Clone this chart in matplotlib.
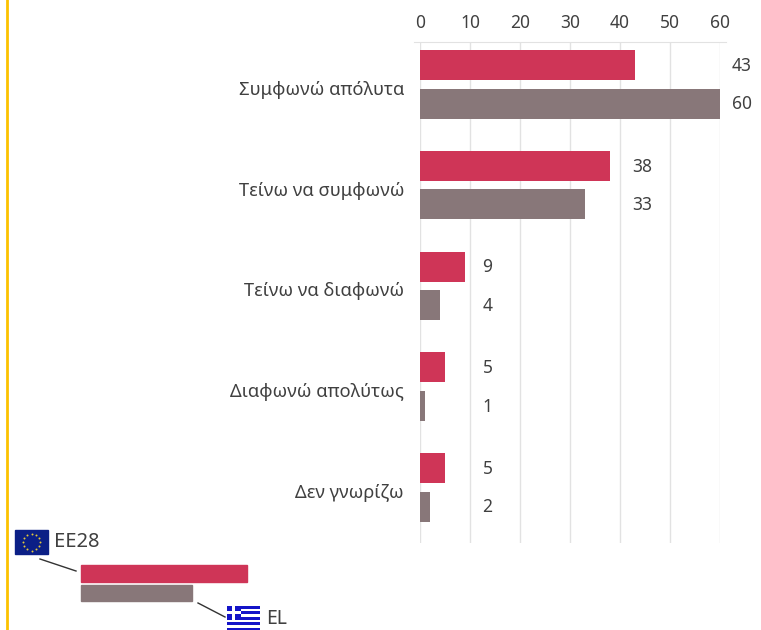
import matplotlib
matplotlib.use('Agg')
import matplotlib.pyplot as plt
import numpy as np
from matplotlib.patches import Rectangle
from matplotlib.transforms import ScaledTranslation

plt.rcParams['font.family'] = ['Noto Sans', 'DejaVu Sans']

categories = ['Συμφωνώ απόλυτα', 'Τείνω να συμφωνώ', 'Τείνω να διαφωνώ', 'Διαφωνώ απολύτως', 'Δεν γνωρίζω']
ee28 = [43, 38, 9, 5, 5]
el = [60, 33, 4, 1, 2]
ticks = [0, 10, 20, 30, 40, 50, 60]

RED = '#cf3557'
GREY = '#887779'
TXT = '#404040'
W, H = 761, 630

fig = plt.figure(figsize=(W / 100, H / 100), dpi=100)

# overlay in pixel coordinates for the hand drawn legend
bg = fig.add_axes([0, 0, 1, 1])
bg.set_xlim(0, W)
bg.set_ylim(H, 0)
bg.axis('off')
bg.axvline(7, color='#fcc200', lw=2)

# main chart
left, right, top, bottom = 420, 720, 42, 543
ax = fig.add_axes([left / W, 1 - bottom / H, (right - left) / W, (bottom - top) / H])
ax.patch.set_alpha(0)
y = np.arange(len(categories))
unit = 100.75
ax.barh(y - 19.3 / unit, ee28, height=30 / unit, color=RED, zorder=3)
ax.barh(y + 19.3 / unit, el, height=30 / unit, color=GREY, zorder=3)
ax.set_xlim(0, 60)
ax.set_ylim(-0.42 + (bottom - top) / unit, -0.42)

ax.xaxis.tick_top()
ax.set_xticks(ticks)
ax.set_yticks(y)
ax.set_yticklabels(categories, fontsize=13.2, color=TXT)
ax.tick_params(axis='y', length=0, pad=11.5)
ax.tick_params(axis='x', length=0, pad=7.5, labelsize=12.5, labelcolor=TXT)
ax.grid(axis='x', color='#e2e2e2', lw=1, zorder=0)
for s in ['left', 'right', 'bottom']:
    ax.spines[s].set_visible(False)
ax.spines['top'].set_color('#e2e2e2')
ax.spines['top'].set_bounds(-1.3, 61.2)

# category names sit a little under the group centre
shift = ScaledTranslation(0, -2.5 / 72, fig.dpi_scale_trans)
for lab in ax.get_yticklabels():
    lab.set_transform(lab.get_transform() + shift)

# values stand in one column per group
label_x = [62.4, 42.4, 12.5, 12.5, 12.5]
for i in y:
    ax.text(label_x[i], i - 18.5 / unit, str(ee28[i]), va='center', fontsize=12.5, color=TXT, clip_on=False)
    ax.text(label_x[i], i + 20 / unit, str(el[i]), va='center', fontsize=12.5, color=TXT, clip_on=False)

# legend
bg.add_patch(Rectangle((81, 565), 166, 17, color=RED))
bg.add_patch(Rectangle((81, 585), 111, 16, color=GREY))
bg.plot([40, 76], [559, 571], color='#333333', lw=1)
bg.plot([198, 225], [603, 617], color='#333333', lw=1)

# EU flag
bg.add_patch(Rectangle((15, 530), 33, 24, color='#0b1f86'))
ang = np.arange(12) * np.pi / 6
bg.scatter(31.5 + 8.5 * np.cos(ang), 542 + 8.5 * np.sin(ang), s=2, color='#e5c93a', lw=0)
bg.text(54, 542, 'ΕΕ28', fontsize=14.5, color=TXT, va='center')

# Greek flag, cut by the bottom edge
fx, fy, fw, sh = 227, 606, 33, 2.7
for k in range(9):
    bg.add_patch(Rectangle((fx, fy + k * sh), fw, sh, color='#1414c8' if k % 2 == 0 else 'white', lw=0))
bg.add_patch(Rectangle((fx, fy), 13.5, 5 * sh, color='#1414c8', lw=0))
bg.add_patch(Rectangle((fx + 5, fy), 3, 5 * sh, color='white', lw=0))
bg.add_patch(Rectangle((fx, fy + 5.4), 13.5, 2.7, color='white', lw=0))
bg.text(266, 619, 'EL', fontsize=14, color=TXT, va='center')

fig.savefig('out.png', dpi=100)
